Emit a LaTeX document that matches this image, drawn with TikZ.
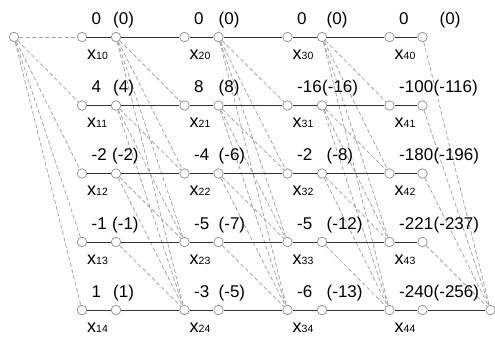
\documentclass[tikz,border=0pt]{standalone}
\usepackage{fontspec}
\setmainfont{Liberation Sans}
\begin{document}
\begin{tikzpicture}[x=1pt,y=-1pt,
  nd/.style={circle,draw=black!40,fill=white,line width=0.8pt,inner sep=0pt,minimum size=9.5pt},
  dsh/.style={draw=black!35,line width=0.8pt,dash pattern=on 4pt off 2.5pt},
  sol/.style={draw=black!80,line width=0.9pt},
  val/.style={inner sep=0pt,font=\fontsize{17}{19}\selectfont},
  xl/.style={inner sep=0pt,font=\fontsize{18}{20}\selectfont}]
\useasboundingbox (0,0) rectangle (495,338);
\newcommand{\dplab}[5]{%
  \node[val,anchor=base west] (v#1#2) at ([xshift=9.5pt,yshift=13pt]L#1#2.center) {#3};
  \node[val,anchor=base west] (c#1#2) at ([xshift=#5,yshift=13pt]R#1#2.center) {#4};
  \node[xl,anchor=base west] (x#1#2) at ([xshift=5pt,yshift=-22pt]L#1#2.center) {x{\fontsize{10.5}{12}\selectfont #1#2}};
}
% nodes
\foreach \k/\lx/\rx in {1/82/116,2/184.5/218.5,3/287.5/322,4/389.5/422.5}
  \foreach \j/\yy in {0/37,1/105.5,2/173.5,3/242,4/310} {
    \node[nd] (L\k\j) at (\lx,\yy) {};
    \node[nd] (R\k\j) at (\rx,\yy) {};
  }
\node[nd] (S) at (14,37) {};
\node[nd] (T) at (490.5,310) {};
% edges
\foreach \j in {0,...,4} \draw[dsh] (S) -- (L1\j);
\foreach \k/\n in {1/2,2/3,3/4}
  \foreach \j in {0,...,4}
    \foreach \i in {\j,...,4} {
      \ifnum\i=\j \draw[sol] (R\k\j) -- (L\n\i); \else \draw[dsh] (R\k\j) -- (L\n\i); \fi
    }
\foreach \k in {1,...,4}
  \foreach \j in {0,...,4} \draw[sol] (L\k\j) -- (R\k\j);
\foreach \j in {0,...,3} \draw[dsh] (R4\j) -- (T);
\draw[sol] (R44) -- (T);
% labels
\dplab{1}{0}{0}{(0)}{-3pt}
\dplab{1}{1}{4}{(4)}{-3pt}
\dplab{1}{2}{-2}{(-2)}{-4pt}
\dplab{1}{3}{-1}{(-1)}{-4pt}
\dplab{1}{4}{1}{(1)}{-3pt}
\dplab{2}{0}{0}{(0)}{0pt}
\dplab{2}{1}{8}{(8)}{0pt}
\dplab{2}{2}{-4}{(-6)}{0pt}
\dplab{2}{3}{-5}{(-7)}{0pt}
\dplab{2}{4}{-3}{(-5)}{0pt}
\dplab{3}{0}{0}{(0)}{4.5pt}
\dplab{3}{1}{-16}{(-16)}{0pt}
\dplab{3}{2}{-2}{(-8)}{4.5pt}
\dplab{3}{3}{-5}{(-12)}{4.5pt}
\dplab{3}{4}{-6}{(-13)}{4.5pt}
\dplab{4}{0}{0}{(0)}{17pt}
\dplab{4}{1}{-100}{(-116)}{11pt}
\dplab{4}{2}{-180}{(-196)}{11pt}
\dplab{4}{3}{-221}{(-237)}{11pt}
\dplab{4}{4}{-240}{(-256)}{11pt}
\end{tikzpicture}
\end{document}
